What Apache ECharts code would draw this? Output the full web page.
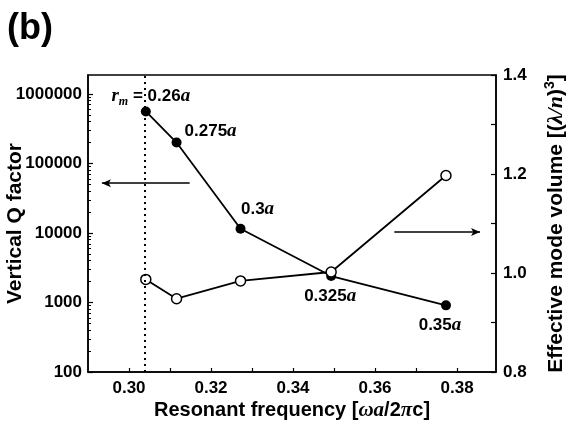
<!DOCTYPE html>
<html>
<head>
<meta charset="utf-8">
<script src="https://cdn.jsdelivr.net/npm/echarts@6/dist/echarts.min.js"></script>
<style>
  html, body { margin: 0; padding: 0; background: #fff; }
  #chart { width: 569px; height: 425px; }
</style>
</head>
<body>
<div id="chart"></div>
<script>
// data
var freq = [0.3041, 0.3116, 0.3272, 0.3493, 0.3773];
var qFactor = [560000, 200000, 11500, 2400, 910];
var modeVolume = [0.987, 0.948, 0.984, 1.002, 1.197];
var radiusLabels = ['0.26', '0.275', '0.3', '0.325', '0.35'];

var qTicks = [100, 1000, 10000, 100000, 1000000];
var freqTicks = [0.30, 0.32, 0.34, 0.36, 0.38];
var freqMinorTicks = [0.30, 0.31, 0.32, 0.33, 0.34, 0.35, 0.36, 0.37, 0.38];
var dottedX = 0.3038;

// arrow annotations [x1, y1, x2, y2]
var leftArrow = [0.3148, 52000, 0.2934, 52000];
var rightArrow = [0.3647, 1.083, 0.3856, 1.083];

// label placement per point
var labelPos = [
    { position: 'top', offset: [5, 6] },
    { position: 'right', offset: [-2, -11] },
    { position: 'top', offset: [17, 0] },
    { position: 'bottom', offset: [-1, 1] },
    { position: 'bottom', offset: [-6, 0] }
];

// minor ticks on log axis: 2..9 in each decade
var qMinor = [];
for (var d = 100; d < 1000000; d *= 10) {
    for (var k = 2; k <= 9; k++) {
        qMinor.push(d * k);
    }
}

var numFont = { fontFamily: 'Liberation Sans', fontWeight: 'bold', fontSize: 17, color: '#000' };
var italA = { fontFamily: 'Liberation Serif', fontStyle: 'italic', fontWeight: 'bold', fontSize: 19, color: '#000' };

var qData = freq.map(function (x, i) {
    var first = i === 0;
    return {
        value: [x, qFactor[i]],
        label: {
            show: true,
            position: labelPos[i].position,
            offset: labelPos[i].offset,
            formatter: first ? '{i|r}{sub|m}{n| = ' + radiusLabels[i] + '}{i|a}' : '{n|' + radiusLabels[i] + '}{i|a}'
        }
    };
});
var vData = freq.map(function (x, i) {
    return [x, modeVolume[i]];
});

var chart = echarts.init(document.getElementById('chart'));
var option = {
    animation: false,
    backgroundColor: '#fff',
    title: {
        text: '(b)',
        left: 2,
        top: 6,
        textStyle: { fontFamily: 'Liberation Sans', fontSize: 36, fontWeight: 'bold', color: '#000' }
    },
    grid: {
        left: 88, right: 73, top: 75, bottom: 53,
        outerBoundsMode: 'none',
        containLabel: false,
        show: true, borderColor: '#000', borderWidth: 1.5
    },
    xAxis: {
        type: 'value',
        min: 0.29,
        max: 0.3895,
        name: '{t|Resonant frequency [}{g|ωa}{t|/2}{g|π}{t|c]}',
        nameLocation: 'middle',
        nameGap: 28,
        nameMoveOverlap: false,
        nameTextStyle: {
            rich: {
                t: { fontFamily: 'Liberation Sans', fontWeight: 'bold', fontSize: 20, color: '#000' },
                g: { fontFamily: 'Liberation Serif', fontStyle: 'italic', fontWeight: 'bold', fontSize: 21, color: '#000' }
            }
        },
        axisLine: { show: true, lineStyle: { color: '#000', width: 1.5 } },
        axisTick: { show: true, inside: true, length: 4, customValues: freqMinorTicks, lineStyle: { color: '#000', width: 1.2 } },
        axisLabel: {
            customValues: freqTicks, margin: 8, fontFamily: 'Liberation Sans', fontWeight: 'bold', fontSize: 17, color: '#000',
            formatter: function (v) { return v.toFixed(2); }
        },
        splitLine: { show: false }
    },
    yAxis: [
        {
            type: 'log',
            min: 100,
            max: 1875000,
            position: 'left',
            name: 'Vertical Q factor',
            nameLocation: 'middle',
            nameRotate: 90,
            nameGap: 62,
            nameMoveOverlap: false,
            nameTextStyle: { fontFamily: 'Liberation Sans', fontWeight: 'bold', fontSize: 21, color: '#000' },
            axisLine: { show: true, lineStyle: { color: '#000', width: 1.5 } },
            axisTick: { show: true, inside: true, length: 5, customValues: qTicks, lineStyle: { color: '#000', width: 1.2 } },
            axisLabel: {
                customValues: qTicks, margin: 6,
                fontFamily: 'Liberation Sans', fontWeight: 'bold', fontSize: 17, color: '#000',
                formatter: function (v) { return String(Math.round(v)); }
            },
            splitLine: { show: false }
        },
        {
            type: 'value',
            min: 0.8,
            max: 1.4,
            interval: 0.2,
            position: 'right',
            name: '{t|Effective mode volume [(}{g|λ/n}{t|)}{s|3}{t|]}',
            nameLocation: 'middle',
            nameRotate: 90,
            nameGap: 47,
            nameMoveOverlap: false,
            nameTextStyle: {
                rich: {
                    t: { fontFamily: 'Liberation Sans', fontWeight: 'bold', fontSize: 21, color: '#000' },
                    g: { fontFamily: 'Liberation Serif', fontStyle: 'italic', fontWeight: 'bold', fontSize: 22, color: '#000' },
                    s: { fontFamily: 'Liberation Sans', fontWeight: 'bold', fontSize: 14, color: '#000', padding: [0, 0, 12, 0] }
                }
            },
            axisLine: { show: true, lineStyle: { color: '#000', width: 1.5 } },
            axisTick: { show: true, inside: true, length: 5, lineStyle: { color: '#000', width: 1.2 } },
            minorTick: { show: true, splitNumber: 2, length: 5, lineStyle: { color: '#000', width: 1.2 } },
            axisLabel: {
                margin: 7, fontFamily: 'Liberation Sans', fontWeight: 'bold', fontSize: 17, color: '#000',
                formatter: function (v) { return v.toFixed(1); }
            },
            splitLine: { show: false }
        },
        {
            type: 'log',
            min: 100,
            max: 1875000,
            position: 'left',
            axisLine: { show: false },
            axisTick: { show: true, inside: true, length: 3, customValues: qMinor, lineStyle: { color: '#000', width: 1 } },
            axisLabel: { show: false },
            splitLine: { show: false }
        }
    ],
    series: [
        {
            name: 'Q',
            type: 'line',
            yAxisIndex: 0,
            data: qData,
            symbol: 'circle',
            symbolSize: 10,
            itemStyle: { color: '#000' },
            lineStyle: { color: '#000', width: 1.8 },
            label: {
                rich: {
                    n: numFont,
                    i: italA,
                    sub: { fontFamily: 'Liberation Serif', fontStyle: 'italic', fontWeight: 'bold', fontSize: 12, color: '#000', padding: [10, 0, 0, 0] }
                }
            },
            markLine: {
                silent: true,
                precision: 4,
                symbol: ['none', 'none'],
                label: { show: false },
                lineStyle: { color: '#000', type: [2, 4], width: 2 },
                data: [
                    { xAxis: dottedX },
                    [
                        { coord: [leftArrow[0], leftArrow[1]], symbol: 'none', lineStyle: { type: 'solid', width: 1.5 } },
                        { coord: [leftArrow[2], leftArrow[3]], symbol: 'arrow', symbolSize: [6, 9] }
                    ]
                ]
            },
            z: 3
        },
        {
            name: 'V',
            type: 'line',
            yAxisIndex: 1,
            data: vData,
            symbol: 'circle',
            symbolSize: 10,
            itemStyle: { color: '#fff', borderColor: '#000', borderWidth: 1.5 },
            lineStyle: { color: '#000', width: 1.8 },
            markLine: {
                silent: true,
                precision: 4,
                symbol: ['none', 'arrow'],
                symbolSize: [6, 9],
                label: { show: false },
                lineStyle: { color: '#000', type: 'solid', width: 1.5 },
                data: [
                    [
                        { coord: [rightArrow[0], rightArrow[1]] },
                        { coord: [rightArrow[2], rightArrow[3]] }
                    ]
                ]
            },
            z: 4
        }
    ]
};
chart.setOption(option);
</script>
</body>
</html>
